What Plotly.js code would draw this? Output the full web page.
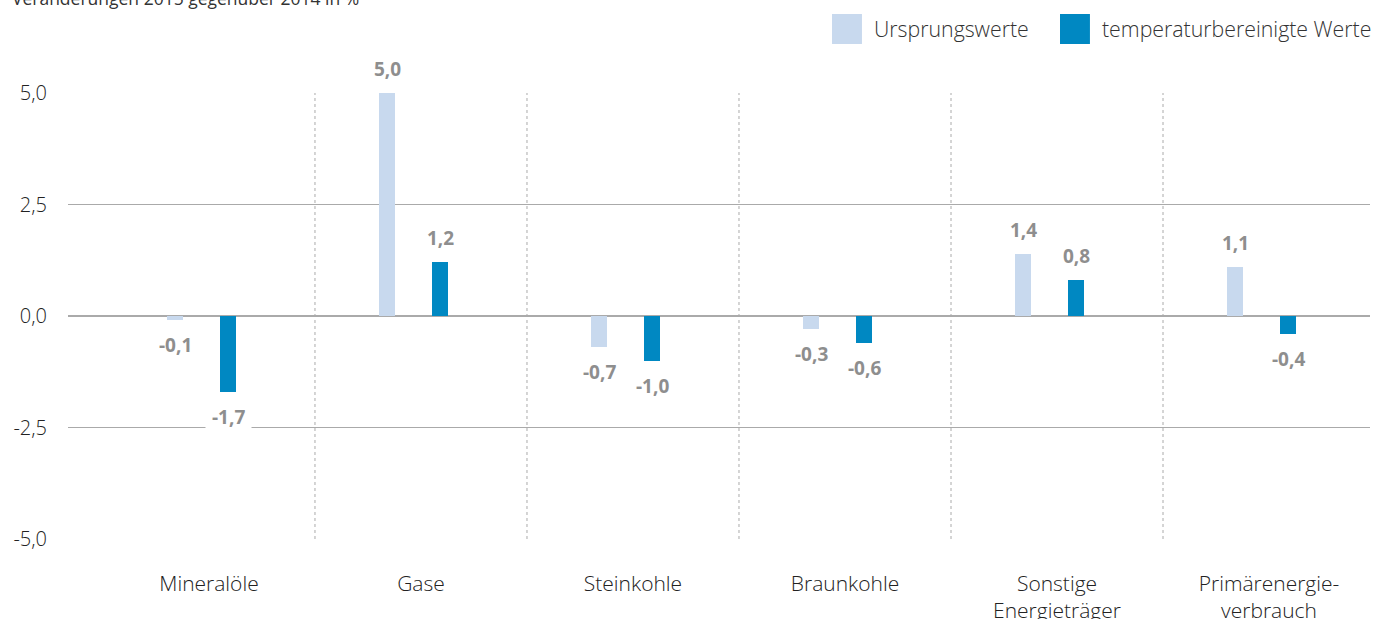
<!DOCTYPE html>
<html><head><meta charset="utf-8">
<script src="https://cdn.plot.ly/plotly-3.0.1.min.js"></script>
<style>
html,body{margin:0;padding:0;background:#fff;}
#chart{width:1373px;height:619px;}
</style></head><body><div id="chart"></div>
<script>
const categories = ['Mineralöle','Gase','Steinkohle','Braunkohle','Sonstige<br>Energieträger','Primärenergie-<br>verbrauch'];
const seriesNames = ['Ursprungswerte','temperaturbereinigte Werte'];
const ursprungswerte = [-0.1, 5.0, -0.7, -0.3, 1.4, 1.1];
const temperaturbereinigt = [-1.7, 1.2, -1.0, -0.6, 0.8, -0.4];
const yTickValues = [-5, -2.5, 0, 2.5, 5];
const yTickLabels = ['-5,0','-2,5','0,0','2,5','5,0'];
const chartTitle = 'Veränderungen 2015 gegenüber 2014 in %';

const colors = ['#c8d9ee', '#0088c2'];
const barWidth = 0.0755;
const offsets = [-0.198, 0.052];
const seriesValues = [ursprungswerte, temperaturbereinigt];
const fontFamily = '"Open Sans", "Liberation Sans", Arial, sans-serif';
const textFont = (size, color) => ({family: fontFamily, size: size, color: color, weight: 300});

const traces = seriesValues.map((vals, s) => ({
  type: 'bar',
  name: seriesNames[s],
  x: categories,
  y: vals,
  width: barWidth,
  offset: offsets[s],
  marker: {color: colors[s], line: {width: 0}},
  showlegend: false,
  hoverinfo: 'skip'
}));

const fmt = v => v.toFixed(1).replace('.', ',');
const annotations = [];
seriesValues.forEach((vals, s) => {
  vals.forEach((v, i) => {
    annotations.push({
      x: i + offsets[s] + barWidth / 2,
      y: v,
      xref: 'x', yref: 'y',
      text: fmt(v),
      showarrow: false,
      yanchor: 'middle',
      yshift: v >= 0 ? 24 : -25,
      bgcolor: '#ffffff',
      borderpad: 6,
      font: {family: '"Open Sans", Arial, sans-serif', size: 19, color: '#8e8e8e', weight: 700}
    });
  });
});
annotations.push({
  text: chartTitle,
  xref: 'paper', yref: 'paper',
  x: -0.0445, y: 1.212,
  xanchor: 'left', yanchor: 'middle',
  showarrow: false,
  font: {family: fontFamily, size: 17.5, color: '#333333', weight: 400}
});

// custom legend (large square swatches)
const legendSwatchX = [0.5868, 0.7619];
const legendSwatchW = 0.023;
const legendY0 = 1.1099, legendY1 = 1.1771;
const shapes = [];
seriesNames.forEach((name, s) => {
  shapes.push({
    type: 'rect', xref: 'paper', yref: 'paper',
    x0: legendSwatchX[s], x1: legendSwatchX[s] + legendSwatchW,
    y0: legendY0, y1: legendY1,
    fillcolor: colors[s], line: {width: 0}
  });
  annotations.push({
    text: name, xref: 'paper', yref: 'paper',
    x: legendSwatchX[s] + legendSwatchW + 0.0075, y: (legendY0 + legendY1) / 2,
    xanchor: 'left', yanchor: 'middle', showarrow: false,
    font: textFont(21.3, '#333333')
  });
});

categories.slice(0, -1).forEach((c, i) => {
  shapes.push({
    type: 'line', xref: 'x', yref: 'y',
    x0: i + 0.5, x1: i + 0.5, y0: -5, y1: 5,
    line: {color: '#aaaaaa', width: 1, dash: 'dot'},
    layer: 'below'
  });
});

const layout = {
  width: 1373, height: 619,
  margin: {l: 68, r: 3, t: 93, b: 80},
  paper_bgcolor: '#ffffff', plot_bgcolor: '#ffffff',
  font: textFont(20, '#222222'),
  separators: ',.',
  showlegend: false,
  xaxis: {
    type: 'category',
    range: [-0.665, 5.4764],
    showgrid: false, zeroline: false, showline: false,
    ticks: '', ticklabelstandoff: 30,
    tickfont: textFont(21, '#222222'),
    fixedrange: true
  },
  yaxis: {
    range: [-5, 5],
    tickvals: yTickValues, ticktext: yTickLabels,
    showgrid: true, gridcolor: '#aaaaaa', gridwidth: 1,
    zeroline: true, zerolinecolor: '#aaaaaa', zerolinewidth: 2,
    showline: false, ticks: '', ticklabelstandoff: 20,
    tickfont: textFont(20, '#222222'),
    fixedrange: true
  },
  bargap: 0,
  annotations: annotations,
  shapes: shapes
};

Plotly.newPlot('chart', traces, layout, {displayModeBar: false, staticPlot: true});
</script></body></html>
